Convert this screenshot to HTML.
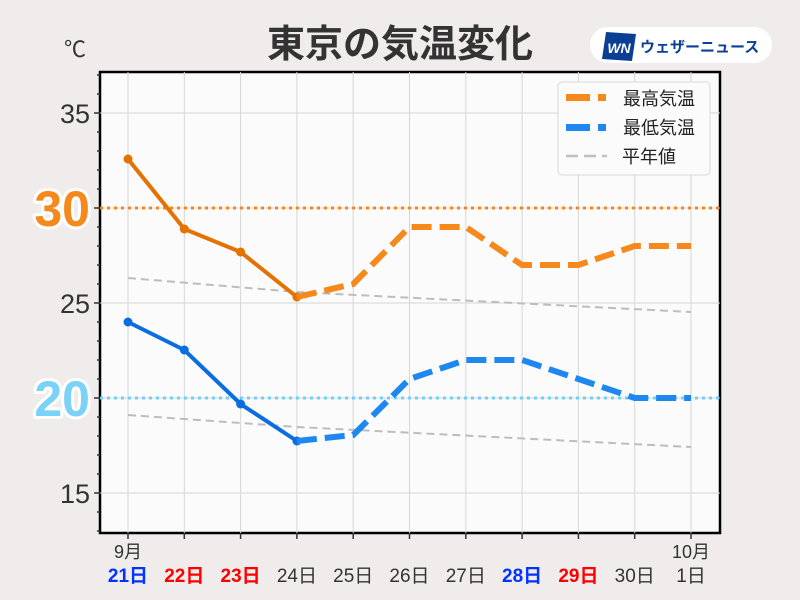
<!DOCTYPE html>
<html><head><meta charset="utf-8"><style>
html,body{margin:0;padding:0;overflow:hidden;background:#efeceb;width:800px;height:600px;}
svg{display:block;}
svg text{font-family:"Liberation Sans","Noto Sans CJK JP",sans-serif;}
</style></head><body>
<svg width="800" height="600" viewBox="0 0 800 600" xmlns="http://www.w3.org/2000/svg">
<rect width="800" height="600" fill="#efeceb"/>
<text x="400" y="57" text-anchor="middle" font-size="38" font-weight="bold" fill="#333">東京の気温変化</text>
<text x="64" y="57" font-size="22" fill="#333">℃</text>
<rect x="590" y="27" width="182" height="36" rx="18" fill="#fff"/>
<polygon points="606,32 636,34 632,61 602,59" fill="#0b3f96"/>
<text x="619" y="53" text-anchor="middle" font-size="14" font-weight="bold" font-style="italic" fill="#fff">WN</text>
<text x="640" y="52" font-size="15" font-weight="bold" fill="#0b3f96">ウェザーニュース</text>
<rect x="100" y="72" width="620" height="461" fill="#fcfbfc" stroke="#000" stroke-width="2.5"/>
<g stroke="#d6d6d6" stroke-width="1">
<line x1="100" y1="113" x2="720" y2="113"/><line x1="100" y1="208" x2="720" y2="208"/><line x1="100" y1="303" x2="720" y2="303"/><line x1="100" y1="398" x2="720" y2="398"/><line x1="100" y1="493" x2="720" y2="493"/>
<line x1="128" y1="72" x2="128" y2="533"/><line x1="184.3" y1="72" x2="184.3" y2="533"/><line x1="240.6" y1="72" x2="240.6" y2="533"/><line x1="296.9" y1="72" x2="296.9" y2="533"/><line x1="353.2" y1="72" x2="353.2" y2="533"/><line x1="409.5" y1="72" x2="409.5" y2="533"/><line x1="465.8" y1="72" x2="465.8" y2="533"/><line x1="522.1" y1="72" x2="522.1" y2="533"/><line x1="578.4" y1="72" x2="578.4" y2="533"/><line x1="634.7" y1="72" x2="634.7" y2="533"/><line x1="691" y1="72" x2="691" y2="533"/>
</g>
<g stroke="#333" stroke-width="1.5">
<line x1="94" y1="113" x2="100" y2="113"/><line x1="94" y1="208" x2="100" y2="208"/><line x1="94" y1="303" x2="100" y2="303"/><line x1="94" y1="398" x2="100" y2="398"/><line x1="94" y1="493" x2="100" y2="493"/>
<path d="M97 75H100M97 94H100M97 132H100M97 151H100M97 170H100M97 189H100M97 227H100M97 246H100M97 265H100M97 284H100M97 322H100M97 341H100M97 360H100M97 379H100M97 417H100M97 436H100M97 455H100M97 474H100M97 512H100M97 531H100"/>
<path d="M128 533v6M184.3 533v6M240.6 533v6M296.9 533v6M353.2 533v6M409.5 533v6M465.8 533v6M522.1 533v6M578.4 533v6M634.7 533v6M691 533v6"/>
</g>
<g font-size="27" fill="#333" text-anchor="end">
<text x="90" y="123">35</text><text x="90" y="313">25</text><text x="90" y="503">15</text>
</g>
<g font-size="50" font-weight="bold" text-anchor="end" stroke="#fff" stroke-width="6" paint-order="stroke" stroke-linejoin="round">
<text x="90" y="226" fill="#f5891c">30</text><text x="90" y="416" fill="#7ad3f7">20</text>
</g>
<line x1="100" y1="208" x2="720" y2="208" stroke="#f5891c" stroke-width="3" stroke-dasharray="3,4"/>
<line x1="100" y1="398" x2="720" y2="398" stroke="#6fd0fa" stroke-width="3" stroke-dasharray="3,4"/>
<polyline points="128,278 296.9,292 691,312" fill="none" stroke="#bdbdbd" stroke-width="2" stroke-dasharray="8,5"/>
<polyline points="128,415 296.9,427 691,447" fill="none" stroke="#bdbdbd" stroke-width="2" stroke-dasharray="8,5"/>
<polyline points="128,159 184.3,229 240.6,252 296.9,297" fill="none" stroke="#e57200" stroke-width="4"/>
<g fill="#e57200"><circle cx="128" cy="159" r="4.5"/><circle cx="184.3" cy="229" r="4.5"/><circle cx="240.6" cy="252" r="4.5"/><circle cx="296.9" cy="297" r="4.5"/></g>
<polyline points="296.9,297 353.2,284 409.5,227 465.8,227 522.1,265 578.4,265 634.7,246 691,246" fill="none" stroke="#f5891c" stroke-width="6" stroke-dasharray="20,8"/>
<polyline points="128,322 184.3,350 240.6,404 296.9,441" fill="none" stroke="#0a6ee0" stroke-width="4"/>
<g fill="#0a6ee0"><circle cx="128" cy="322" r="4.5"/><circle cx="184.3" cy="350" r="4.5"/><circle cx="240.6" cy="404" r="4.5"/><circle cx="296.9" cy="441" r="4.5"/></g>
<polyline points="296.9,441 353.2,435 409.5,379 465.8,360 522.1,360 578.4,379 634.7,398 691,398" fill="none" stroke="#1e88f0" stroke-width="6" stroke-dasharray="20,8"/>
<rect x="558" y="82" width="152" height="93" rx="4" fill="#fcfbfc" stroke="#d8d8d8"/>
<rect x="566" y="94" width="24" height="7" fill="#f5891c"/><rect x="598" y="94" width="8" height="7" fill="#f5891c"/>
<rect x="566" y="124" width="24" height="7" fill="#1e88f0"/><rect x="598" y="124" width="8" height="7" fill="#1e88f0"/>
<path d="M566 156H578M584 156H596M602 156H607" stroke="#c0c0c0" stroke-width="2.5"/>
<g font-size="18" fill="#222"><text x="623" y="105">最高気温</text><text x="623" y="134">最低気温</text><text x="622" y="163">平年値</text></g>
<g font-size="18" fill="#333" text-anchor="middle">
<text x="128" y="558">9月</text><text x="691" y="558">10月</text>
</g>
<g font-size="19" text-anchor="middle">
<text x="128" y="582" fill="#0033ff" font-weight="bold">21日</text>
<text x="184.3" y="582" fill="#ff0000" font-weight="bold">22日</text>
<text x="240.6" y="582" fill="#ff0000" font-weight="bold">23日</text>
<text x="296.9" y="582" fill="#333">24日</text>
<text x="353.2" y="582" fill="#333">25日</text>
<text x="409.5" y="582" fill="#333">26日</text>
<text x="465.8" y="582" fill="#333">27日</text>
<text x="522.1" y="582" fill="#0033ff" font-weight="bold">28日</text>
<text x="578.4" y="582" fill="#ff0000" font-weight="bold">29日</text>
<text x="634.7" y="582" fill="#333">30日</text>
<text x="691" y="582" fill="#333">1日</text>
</g>
</svg>
</body></html>
